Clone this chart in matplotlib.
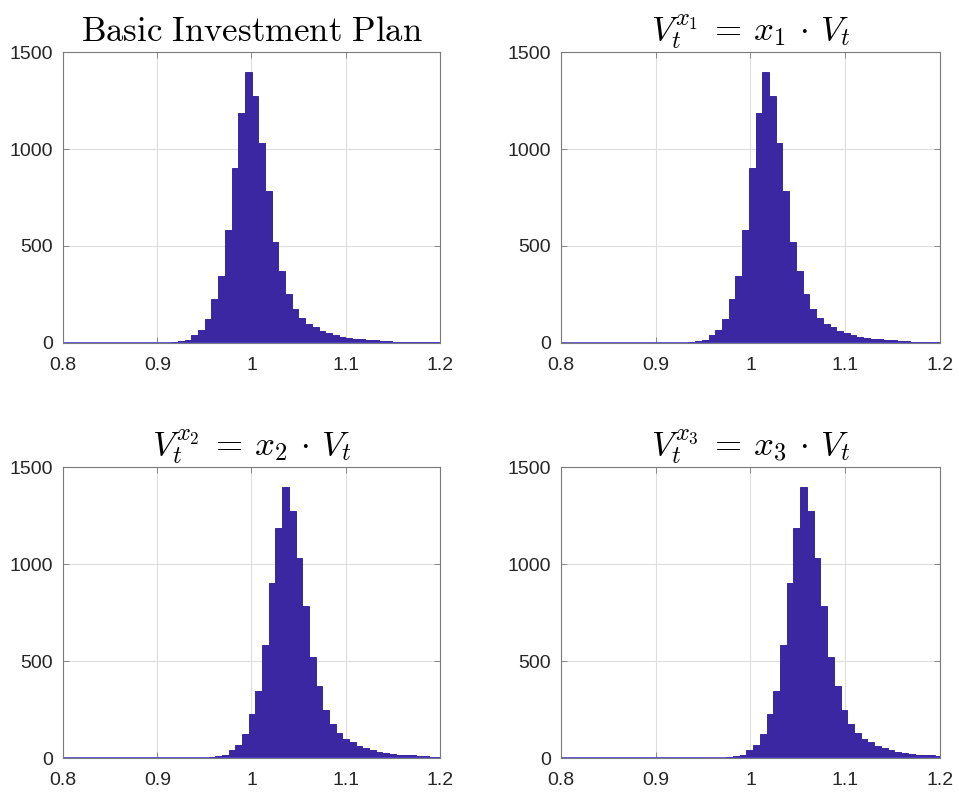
# plot.py
# 2x2 grid of terminal value histograms (MATLAB look)
import numpy as np
import matplotlib
matplotlib.use('Agg')
import matplotlib.pyplot as plt

plt.rcParams['mathtext.fontset'] = 'cm'
plt.rcParams['font.family'] = ['Liberation Sans', 'DejaVu Sans']

# panel titles
titles = [r'$\mathrm{Basic\ Investment\ Plan}$',
          r'$V_t^{x_1} \:=\: x_1 \,\cdot\, V_t$',
          r'$V_t^{x_2} \:=\: x_2 \,\cdot\, V_t$',
          r'$V_t^{x_3} \:=\: x_3 \,\cdot\, V_t$']

# bin counts (same shape in all four panels)
counts = [0, 0, 0, 0, 0, 0, 0, 0, 0,
          0, 0, 0, 0, 0, 0, 0, 0, 0, 0, 0, 0,
          0, 1, 1, 2, 4, 8, 15, 40, 68, 125,
          228, 344, 584, 904, 1187, 1395, 1273, 1033, 785, 519,
          370, 250, 176, 127, 96, 82, 64, 52, 41, 32,
          26, 21, 18, 17, 15, 11, 9, 5, 4, 4,
          3, 3, 3, 3, 2, 2, 2, 1, 1, 1, 1]
# left edge of the first bin in each panel, and common bin width
bin_start = [0.7374, 0.7569, 0.7769, 0.7969]
bin_width = 0.0071

xticks = [0.8, 0.9, 1.0, 1.1, 1.2]
xticklabels = ['0.8', '0.9', '1', '1.1', '1.2']
yticks = [0, 500, 1000, 1500]

bar_col = '#3a27a1'

fig = plt.figure(figsize=(9.59, 7.93), dpi=100)
positions = [[0.0657, 0.5675, 0.3931, 0.3669],
             [0.5850, 0.5675, 0.3951, 0.3669],
             [0.0657, 0.0441, 0.3931, 0.3669],
             [0.5850, 0.0441, 0.3951, 0.3669]]

for i in range(4):
    ax = fig.add_axes(positions[i])
    left = bin_start[i] + bin_width * np.arange(len(counts))
    ax.bar(left, counts, width=bin_width, align='edge',
           color=bar_col, edgecolor=bar_col, linewidth=0.7, zorder=3)
    ax.axhline(0, color='#4b3fd6', linewidth=1.2, zorder=3.5)
    ax.set_xlim(0.8, 1.2)
    ax.set_ylim(0, 1500)
    ax.set_xticks(xticks)
    ax.set_xticklabels(xticklabels)
    ax.set_yticks(yticks)
    ax.grid(True, color='#dedede', linewidth=0.8, zorder=0)
    ax.set_axisbelow(True)
    for s in ax.spines.values():
        s.set_color('#7a7a7a')
        s.set_linewidth(0.8)
        s.set_zorder(4)
    ax.tick_params(direction='in', length=4, width=0.6, color='#7a7a7a',
                   top=True, right=True, labelsize=14, labelcolor='#262626')
    ax.tick_params(axis='x', pad=10)
    ax.tick_params(axis='y', pad=7)
    ax.set_title(titles[i], fontsize=25, pad=8)

fig.savefig('out.png', dpi=100, facecolor='white')
